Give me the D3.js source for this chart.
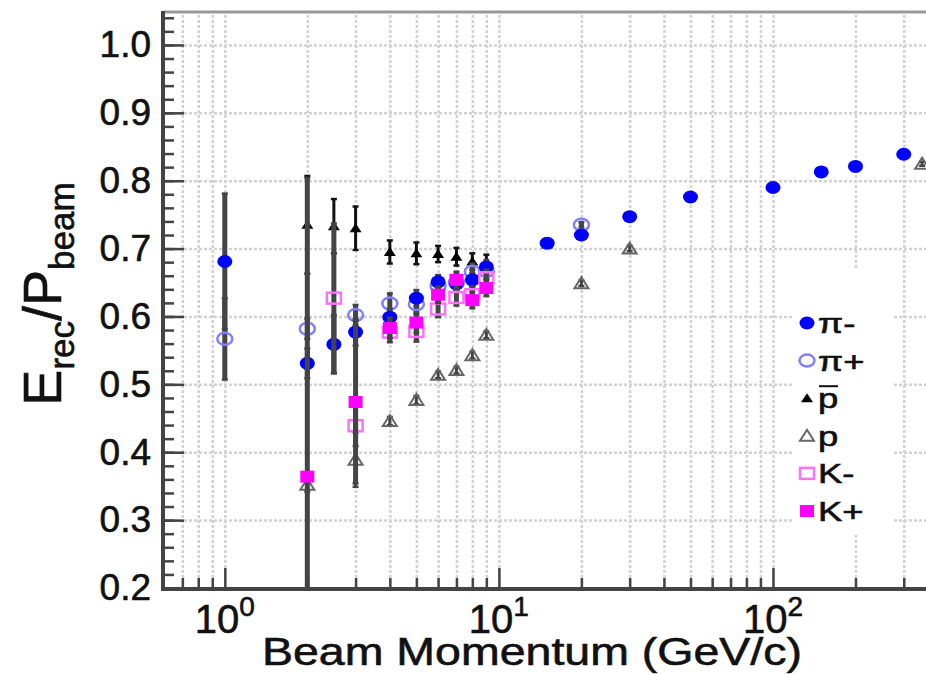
<!DOCTYPE html>
<html lang="en">
<head>
<meta charset="utf-8">
<title>Erec/Pbeam vs Beam Momentum</title>
<script src="https://cdn.jsdelivr.net/npm/d3@7"></script>
<style>
	body { margin: 0; background: #fff; }
	svg text { font-family: "Liberation Sans", Arial, Helvetica, sans-serif; fill: #111; stroke: #111; stroke-width: 0.6px; }
</style>
</head>
<body>
<div id="chart"></div>
<script>

// beam momentum (GeV/c), response Erec/Pbeam and error for each particle
var piMinusP   = [1, 2, 2.5, 3, 4, 5, 6, 7, 8, 9, 15, 20, 30, 50, 100, 150, 200, 300];
var piMinusR   = [0.681, 0.531, 0.559, 0.577, 0.599, 0.627, 0.651, 0.648, 0.654, 0.673, 0.708, 0.720, 0.747, 0.776, 0.790, 0.813, 0.821, 0.839];
var piMinusErr = [0.100, 0.022, 0.043, 0.020, 0.012, 0.012, 0.010, 0.010, 0.010, 0.010, 0.004, 0.004, 0.003, 0.003, 0.003, 0.003, 0.003, 0.003];

var piPlusP   = [1, 2, 3, 4, 5, 6, 7, 8, 9, 20];
var piPlusR   = [0.567, 0.582, 0.602, 0.619, 0.618, 0.645, 0.650, 0.666, 0.667, 0.735];
var piPlusErr = [0.060, 0.015, 0.015, 0.015, 0.015, 0.012, 0.012, 0.012, 0.012, 0.004];

var pbarP   = [2, 2.5, 3, 4, 5, 6, 7, 8, 9, 15];
var pbarR   = [0.735, 0.733, 0.730, 0.695, 0.693, 0.692, 0.688, 0.681, 0.679, 0.706];
var pbarErr = [0.072, 0.040, 0.032, 0.017, 0.016, 0.012, 0.013, 0.012, 0.012, 0.004];

var protonP   = [2, 3, 4, 5, 6, 7, 8, 9, 20, 30, 350];
var protonR   = [0.352, 0.389, 0.446, 0.477, 0.514, 0.521, 0.543, 0.573, 0.649, 0.700, 0.825];
var protonErr = [0.010, 0.040, 0.006, 0.006, 0.005, 0.005, 0.005, 0.005, 0.004, 0.004, 0.003];

var kMinusP   = [2.5, 3, 4, 5, 6, 7, 8, 9];
var kMinusR   = [0.627, 0.439, 0.577, 0.578, 0.611, 0.628, 0.632, 0.657];
var kMinusErr = [0.110, 0.030, 0.015, 0.015, 0.012, 0.012, 0.012, 0.012];

var kPlusP   = [2, 3, 4, 5, 6, 7, 8, 9];
var kPlusR   = [0.364, 0.474, 0.583, 0.591, 0.632, 0.654, 0.624, 0.642];
var kPlusErr = [0.440, 0.120, 0.015, 0.015, 0.012, 0.012, 0.012, 0.012];

var legendNames = ["π-", "π+", "p", "p", "K-", "K+"];

var xMajorTicks = [1, 10, 100];
var xMinorTicks = [0.7, 0.8, 0.9, 2, 3, 4, 5, 6, 7, 8, 9, 20, 30, 40, 50, 60, 70, 80, 90, 200, 300];
var yMajorTicks = [0.2, 0.3, 0.4, 0.5, 0.6, 0.7, 0.8, 0.9, 1.0];

/////////////////////////////////////////////////////////////////////////////

var W = 926, H = 674;
var plotLeft = 164, plotRight = 938, plotTop = 11, plotBottom = 588;

var svg = d3.select("#chart").append("svg")
	.attr("width", W)
	.attr("height", H);

var x = d3.scaleLog().domain([0.6, 400]).range([plotLeft, plotRight]);
var y = d3.scaleLinear().domain([0.2, 1.05]).range([plotBottom, plotTop]);

svg.append("clipPath").attr("id", "plotclip")
	.append("rect")
	.attr("x", plotLeft).attr("y", plotTop)
	.attr("width", plotRight - plotLeft).attr("height", plotBottom - plotTop);

// grid
var gx = svg.append("g")
	.attr("transform", "translate(0," + plotBottom + ")")
	.call(d3.axisBottom(x).tickValues(xMajorTicks.concat(xMinorTicks)).tickSize(-(plotBottom - plotTop)).tickFormat(""));
var gy = svg.append("g")
	.attr("transform", "translate(" + plotLeft + ",0)")
	.call(d3.axisLeft(y).tickValues(yMajorTicks.slice(1)).tickSize(-(plotRight - plotLeft)).tickFormat(""));
[gx, gy].forEach(function(g) {
	g.select(".domain").remove();
	g.selectAll("line")
		.attr("stroke", "#d2d2d2")
		.attr("stroke-width", 2.5)
		.attr("stroke-dasharray", "3,2");
});

// legend background hides the grid
svg.append("rect")
	.attr("x", 793).attr("y", 268)
	.attr("width", 100).attr("height", 265)
	.attr("fill", "#fff");

// axes frame and ticks
svg.append("line")
	.attr("x1", plotLeft).attr("x2", W).attr("y1", plotTop + 1).attr("y2", plotTop + 1)
	.attr("stroke", "#999").attr("stroke-width", 3);

var yMinor = svg.append("g")
	.attr("transform", "translate(" + plotLeft + ",0)")
	.call(d3.axisLeft(y).tickValues(d3.range(0.2, 1.045, 0.02)).tickSize(-10).tickFormat(""));
var yMajor = svg.append("g")
	.attr("transform", "translate(" + plotLeft + ",0)")
	.call(d3.axisLeft(y).tickValues(yMajorTicks).tickSize(-20).tickPadding(13).tickFormat(d3.format(".1f")));
var xMinor = svg.append("g")
	.attr("transform", "translate(0," + plotBottom + ")")
	.call(d3.axisBottom(x).tickValues(xMinorTicks).tickSize(-10).tickFormat(""));
var xMajor = svg.append("g")
	.attr("transform", "translate(0," + plotBottom + ")")
	.call(d3.axisBottom(x).tickValues(xMajorTicks).tickSize(-20).tickFormat(""));

[yMinor, yMajor, xMinor, xMajor].forEach(function(g) {
	g.select(".domain").remove();
	g.selectAll("line").attr("stroke", "#444").attr("stroke-width", 2.5);
});
yMajor.selectAll("text")
	.attr("font-size", 37)
	.attr("fill", "#111")
	.attr("font-family", "Liberation Sans, Arial, sans-serif");

svg.append("line")
	.attr("x1", plotLeft - 1).attr("x2", plotLeft - 1).attr("y1", plotTop).attr("y2", plotBottom + 2)
	.attr("stroke", "#444").attr("stroke-width", 4);
svg.append("line")
	.attr("x1", plotLeft - 3).attr("x2", W).attr("y1", plotBottom + 1).attr("y2", plotBottom + 1)
	.attr("stroke", "#444").attr("stroke-width", 4);

// x tick labels 10^n
xMajorTicks.forEach(function(v) {
	var t = svg.append("text")
		.attr("x", x(v))
		.attr("y", 633)
		.attr("text-anchor", "middle")
		.attr("font-size", 40);
	t.append("tspan").text("10");
	t.append("tspan").attr("dy", -17).attr("font-size", 28).text(Math.round(Math.log10(v)));
});

// axis titles
svg.append("text")
	.attr("x", 532).attr("y", 665)
	.attr("text-anchor", "middle")
	.attr("font-size", 39)
	.attr("textLength", 540)
	.attr("lengthAdjust", "spacingAndGlyphs")
	.text("Beam Momentum (GeV/c)");

var yt = svg.append("text")
	.attr("transform", "translate(61,294) rotate(-90)")
	.attr("text-anchor", "middle")
	.attr("font-size", 54);
yt.append("tspan").text("E");
yt.append("tspan").attr("dy", 13).attr("font-size", 35).text("rec");
yt.append("tspan").attr("dy", -13).text("/P");
yt.append("tspan").attr("dy", 13).attr("font-size", 35).text("beam");

// data
var plot = svg.append("g").attr("clip-path", "url(#plotclip)");

function errorBars(ps, rs, es, colour, width) {
	var g = plot.append("g").attr("stroke", colour);
	ps.forEach(function(p, i) {
		var cx = x(p), y0 = y(rs[i] - es[i]), y1 = y(rs[i] + es[i]);
		if (y0 - y1 < 4) return;
		g.append("line").attr("x1", cx).attr("x2", cx).attr("y1", y0).attr("y2", y1).attr("stroke-width", width);
		g.append("line").attr("x1", cx - 3).attr("x2", cx + 3).attr("y1", y0).attr("y2", y0).attr("stroke-width", 2.5);
		g.append("line").attr("x1", cx - 3).attr("x2", cx + 3).attr("y1", y1).attr("y2", y1).attr("stroke-width", 2.5);
	});
}

function marker(g, kind, cx, cy) {
	if (kind == "pim")
		g.append("ellipse").attr("cx", cx).attr("cy", cy).attr("rx", 7.5).attr("ry", 6.5).attr("fill", "#0000ff");
	else if (kind == "pip")
		g.append("ellipse").attr("cx", cx).attr("cy", cy).attr("rx", 7.5).attr("ry", 6)
			.attr("fill", "none").attr("stroke", "#8080ff").attr("stroke-width", 2.5);
	else if (kind == "pbar")
		g.append("path").attr("d", "M" + (cx - 6) + "," + (cy + 4) + "L" + cx + "," + (cy - 5) + "L" + (cx + 6) + "," + (cy + 4) + "Z")
			.attr("fill", "#000");
	else if (kind == "p")
		g.append("path").attr("d", "M" + (cx - 7) + "," + (cy + 5) + "L" + cx + "," + (cy - 6) + "L" + (cx + 7) + "," + (cy + 5) + "Z")
			.attr("fill", "none").attr("stroke", "#666").attr("stroke-width", 2);
	else if (kind == "km")
		g.append("rect").attr("x", cx - 7).attr("y", cy - 5.5).attr("width", 14).attr("height", 11)
			.attr("fill", "none").attr("stroke", "#ff70ff").attr("stroke-width", 2.5);
	else if (kind == "kp")
		g.append("rect").attr("x", cx - 7).attr("y", cy - 6).attr("width", 14).attr("height", 12)
			.attr("fill", "#ff00ff");
}

var series = [
	{kind: "pbar", p: pbarP, r: pbarR, e: pbarErr, ec: "#111", ew: 3},
	{kind: "pip", p: piPlusP, r: piPlusR, e: piPlusErr, ec: "#444", ew: 5},
	{kind: "pim", p: piMinusP, r: piMinusR, e: piMinusErr, ec: "#444", ew: 5},
	{kind: "p", p: protonP, r: protonR, e: protonErr, ec: "#444", ew: 3},
	{kind: "km", p: kMinusP, r: kMinusR, e: kMinusErr, ec: "#444", ew: 5},
	{kind: "kp", p: kPlusP, r: kPlusR, e: kPlusErr, ec: "#444", ew: 5}
];

series.forEach(function(s) {
	errorBars(s.p, s.r, s.e, s.ec, s.ew);
	var g = plot.append("g");
	s.p.forEach(function(p, i) { marker(g, s.kind, x(p), y(s.r[i])); });
});

// legend
var legendKinds = ["pim", "pip", "pbar", "p", "km", "kp"];
var leg = svg.append("g");
legendKinds.forEach(function(k, i) {
	var ly = 323 + i * 37.6;
	marker(leg, k, 807, ly);
	leg.append("text")
		.attr("transform", "translate(818," + (ly + 10) + ") scale(1.35,1)")
		.attr("font-size", 27)
		.text(legendNames[i]);
	if (k == "pbar")
		leg.append("line").attr("x1", 819).attr("x2", 838).attr("y1", ly - 12).attr("y2", ly - 12)
			.attr("stroke", "#111").attr("stroke-width", 2);
});

</script>
</body>
</html>
